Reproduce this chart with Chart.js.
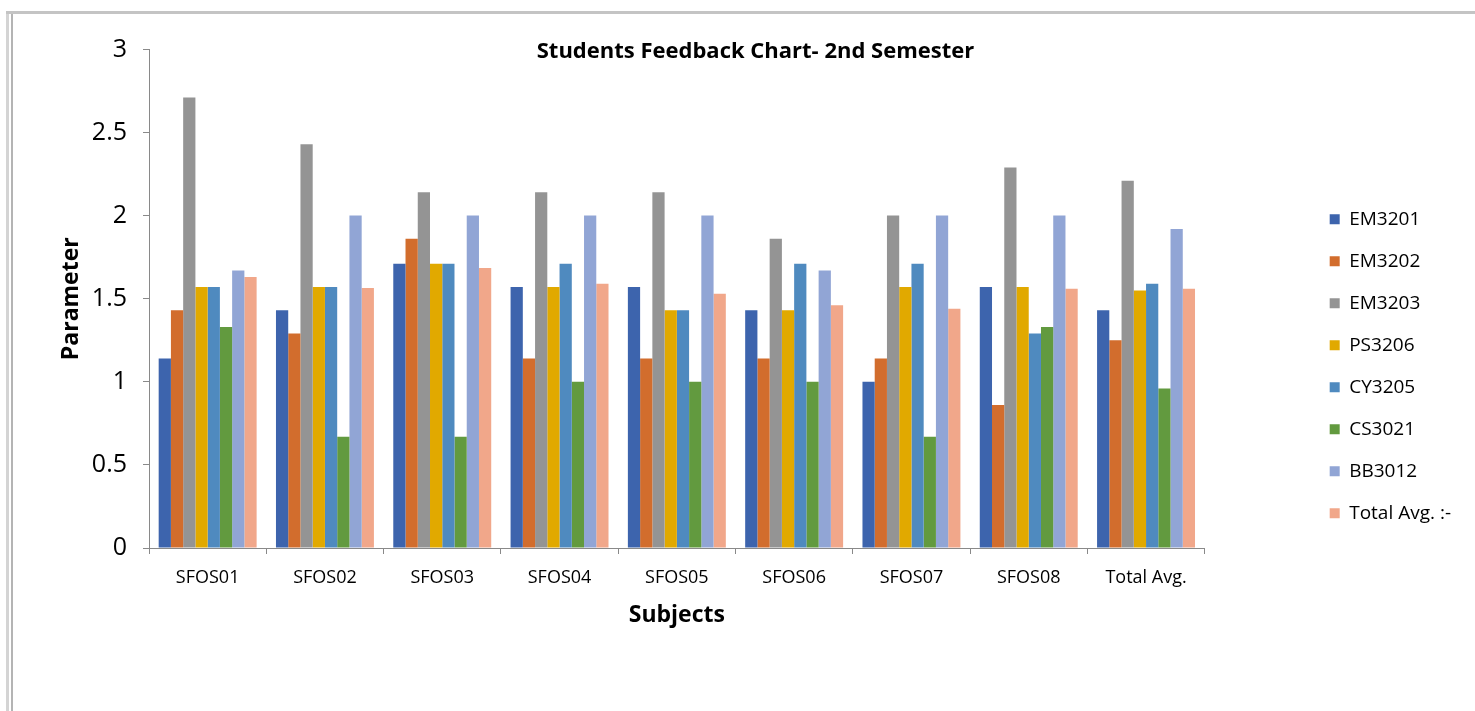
<!DOCTYPE html>
<html>
<head>
<meta charset="utf-8">
<script src="https://cdn.jsdelivr.net/npm/chart.js@4.4.1/dist/chart.umd.min.js"></script>
<style>
  html, body { margin: 0; padding: 0; background: #ffffff; }
  #wrap { position: relative; width: 1475px; height: 711px; overflow: hidden; }
  #frameOuter { position: absolute; left: 6px; top: 11px; width: 3px; height: 700px; background: #d4d4d4; }
  #frameInner { position: absolute; left: 11px; top: 11px; width: 2px; height: 700px; background: #b4b4b4; }
  #frameTop { position: absolute; left: 6px; top: 11px; width: 1469px; height: 3px; background: #c4c4c4; }
  canvas { position: absolute; left: 0; top: 0; }
</style>
</head>
<body>
<div id="wrap">
  <div id="frameOuter"></div>
  <div id="frameInner"></div>
  <div id="frameTop"></div>
  <canvas id="feedbackChart" width="1475" height="711"></canvas>
</div>
<script>
// categories and series
const subjects = ['SFOS01', 'SFOS02', 'SFOS03', 'SFOS04', 'SFOS05', 'SFOS06', 'SFOS07', 'SFOS08', 'Total Avg.'];
const seriesNames = ['EM3201', 'EM3202', 'EM3203', 'PS3206', 'CY3205', 'CS3021', 'BB3012', 'Total Avg. :-'];

const em3201 = [1.14, 1.43, 1.71, 1.57, 1.57, 1.43, 1.00, 1.57, 1.43];
const em3202 = [1.43, 1.29, 1.86, 1.14, 1.14, 1.14, 1.14, 0.86, 1.25];
const em3203 = [2.71, 2.43, 2.14, 2.14, 2.14, 1.86, 2.00, 2.29, 2.21];
const ps3206 = [1.57, 1.57, 1.71, 1.57, 1.43, 1.43, 1.57, 1.57, 1.55];
const cy3205 = [1.57, 1.57, 1.71, 1.71, 1.43, 1.71, 1.71, 1.29, 1.59];
const cs3021 = [1.33, 0.67, 0.67, 1.00, 1.00, 1.00, 0.67, 1.33, 0.96];
const bb3012 = [1.67, 2.00, 2.00, 2.00, 2.00, 1.67, 2.00, 2.00, 1.92];
const totalAvg = [1.63, 1.565, 1.685, 1.59, 1.53, 1.46, 1.44, 1.56, 1.56];

const yTicks = [0, 0.5, 1, 1.5, 2, 2.5, 3];

const seriesValues = [em3201, em3202, em3203, ps3206, cy3205, cs3021, bb3012, totalAvg];
const seriesColors = ['#3D64AD', '#D26D2D', '#949494', '#E1A900', '#4F8ABF', '#629A3F', '#91A5D5', '#F1A78A'];

const FONT = "'Open Sans', 'Liberation Sans', sans-serif";
const AXIS_GREY = '#898989';

const datasets = seriesNames.map((name, i) => ({
    label: name,
    data: seriesValues[i],
    backgroundColor: seriesColors[i],
    borderWidth: 0,
    categoryPercentage: 0.835,
    barPercentage: 1.0
}));

const ctx = document.getElementById('feedbackChart').getContext('2d');

new Chart(ctx, {
    type: 'bar',
    data: {
        labels: subjects,
        datasets: datasets
    },
    options: {
        responsive: false,
        animation: false,
        layout: {
            padding: { left: 50, right: 14, top: 0, bottom: 73 }
        },
        plugins: {
            title: {
                display: true,
                text: 'Students Feedback Chart- 2nd Semester',
                color: '#000000',
                font: { family: FONT, size: 22, weight: 'bold', lineHeight: 1.2 },
                padding: { top: 39, bottom: -16 }
            },
            legend: {
                display: true,
                position: 'right',
                // blank title, only pushes the items down a little
                title: {
                    display: true,
                    text: '',
                    font: { size: 12, lineHeight: 1.2 },
                    padding: { top: 40, bottom: 40 }
                },
                labels: {
                    color: '#000000',
                    font: { family: FONT, size: 19 },
                    boxWidth: 10,
                    boxHeight: 10,
                    padding: 23
                }
            },
            tooltip: { enabled: false }
        },
        scales: {
            x: {
                grid: {
                    display: true,
                    drawOnChartArea: false,
                    drawTicks: true,
                    tickLength: 6,
                    color: AXIS_GREY
                },
                border: { display: true, color: AXIS_GREY, width: 1 },
                ticks: {
                    color: '#000000',
                    font: { family: FONT, size: 18 },
                    padding: 13,
                    maxRotation: 0
                },
                title: {
                    display: true,
                    text: 'Subjects',
                    color: '#000000',
                    font: { family: FONT, size: 23, weight: 'bold', lineHeight: 1.2 },
                    padding: { top: 4, bottom: 9 }
                },
                afterFit: (scale) => { scale.height = 90; }
            },
            y: {
                min: 0,
                max: 3,
                afterBuildTicks: (scale) => {
                    scale.ticks = yTicks.map(v => ({ value: v }));
                },
                grid: {
                    display: true,
                    drawOnChartArea: false,
                    drawTicks: true,
                    tickLength: 6,
                    color: AXIS_GREY
                },
                border: { display: true, color: AXIS_GREY, width: 1 },
                ticks: {
                    color: '#000000',
                    font: { family: FONT, size: 25 },
                    padding: 16,
                    callback: (value) => String(value)
                },
                title: {
                    display: true,
                    text: 'Parameter',
                    color: '#000000',
                    font: { family: FONT, size: 23, weight: 'bold', lineHeight: 1.2 },
                    padding: { top: 8, bottom: 4 }
                },
                afterFit: (scale) => { scale.width = 99; }
            },
            // empty axis, only keeps the gap between the plot and the legend
            gap: {
                type: 'linear',
                position: 'right',
                display: true,
                grid: { display: false },
                border: { display: false },
                ticks: { display: false },
                afterFit: (scale) => { scale.width = 102; }
            }
        }
    }
});
</script>
</body>
</html>
